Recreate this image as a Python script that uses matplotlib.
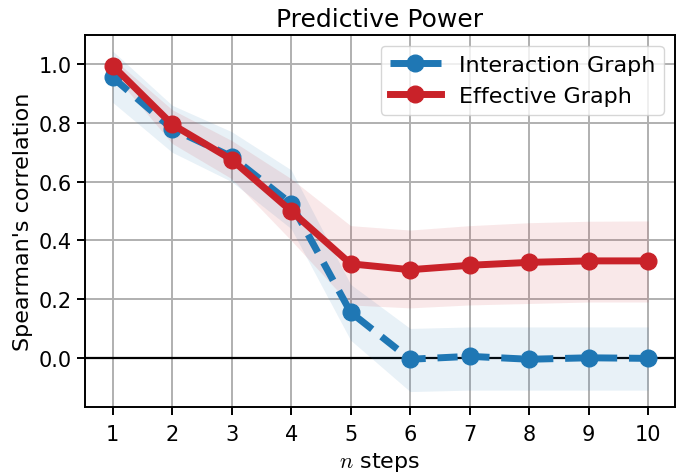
import numpy as np
import matplotlib
matplotlib.use("Agg")
from matplotlib import pyplot as plt

plt.rcParams["mathtext.fontset"] = "cm"

steps = [1, 2, 3, 4, 5, 6, 7, 8, 9, 10]

interaction = [0.955, 0.78, 0.685, 0.525, 0.155, -0.005, 0.005, -0.005, 0.0, -0.002]
interaction_hi = [1.045, 0.86, 0.77, 0.64, 0.25, 0.10, 0.105, 0.105, 0.105, 0.105]
interaction_lo = [0.87, 0.70, 0.60, 0.44, 0.06, -0.115, -0.11, -0.11, -0.11, -0.11]

effective = [0.995, 0.795, 0.675, 0.50, 0.32, 0.30, 0.315, 0.325, 0.33, 0.33]
effective_hi = [1.02, 0.845, 0.74, 0.61, 0.45, 0.435, 0.45, 0.46, 0.465, 0.466]
effective_lo = [0.97, 0.73, 0.61, 0.40, 0.18, 0.17, 0.18, 0.185, 0.19, 0.19]

blue = "#1f77b4"
red = "#c92229"

fig, ax = plt.subplots(figsize=(6.77, 4.77), dpi=100)

ax.grid(True, color="#b0b0b0", linewidth=1.4)
ax.set_axisbelow(True)
ax.axhline(0, color="black", linewidth=1.6, zorder=1)

ax.fill_between(steps, interaction_lo, interaction_hi, color=blue, alpha=0.1, linewidth=0)
ax.fill_between(steps, effective_lo, effective_hi, color=red, alpha=0.1, linewidth=0)

ax.plot(steps, interaction, "--", marker="o", color=blue, linewidth=5,
        markersize=12, dashes=(2.9, 1.7), label="Interaction Graph")
ax.plot(steps, effective, "-", marker="o", color=red, linewidth=5,
        markersize=12, label="Effective Graph")

ax.set_xlim(0.53, 10.45)
ax.set_ylim(-0.167, 1.1)
ax.set_xticks(steps)
ax.set_yticks([0.0, 0.2, 0.4, 0.6, 0.8, 1.0])
ax.tick_params(labelsize=15, length=6, width=1.4)
ax.tick_params(axis="x", pad=6)
for s in ax.spines.values():
    s.set_linewidth(1.4)

ax.set_title("Predictive Power", fontsize=18)
ax.set_xlabel("$n$ steps", fontsize=16, labelpad=5)
ax.set_ylabel("Spearman's correlation", fontsize=16)
ax.legend(loc="upper right", fontsize=16, handlelength=2.3)

fig.subplots_adjust(left=0.125, right=0.997, top=0.925, bottom=0.145)
fig.savefig("out.png")
